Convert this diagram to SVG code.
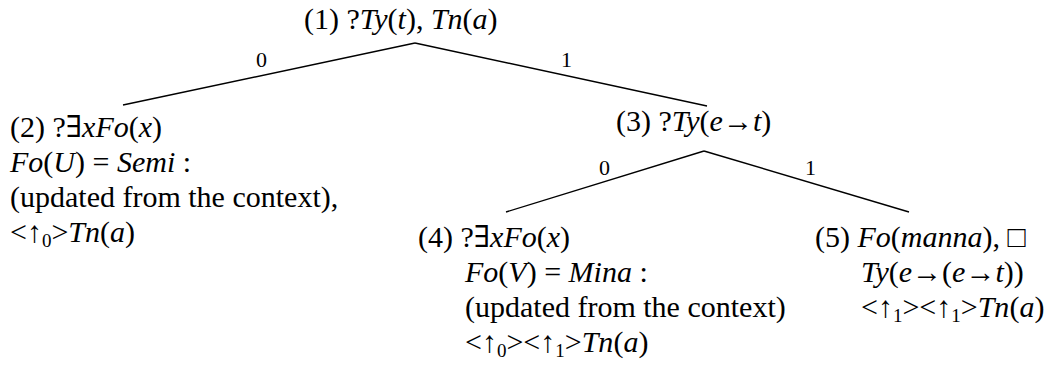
<svg xmlns="http://www.w3.org/2000/svg" width="1058" height="367" viewBox="0 0 1058 367">
<style>
text{font-family:"Liberation Serif","Times New Roman","DejaVu Serif",serif;font-size:30px;fill:#000}
.i{font-style:italic}
.lbl{font-size:22px}
.sub{font-size:19px}
line{stroke:#000;stroke-width:1.4}
</style>
<rect width="1058" height="367" fill="#fff"/>
<g id="connectors">
<line x1="415" y1="43" x2="123" y2="105"/>
<line x1="415" y1="43" x2="707" y2="106"/>
<line x1="704" y1="151" x2="506" y2="212"/>
<line x1="704" y1="151" x2="909" y2="212"/>
<text class="lbl" x="256" y="67">0</text>
<text class="lbl" x="561" y="67">1</text>
<text class="lbl" x="599" y="175">0</text>
<text class="lbl" x="805" y="175">1</text>
</g>
<g id="node1">
<text x="304" y="29">(1) ?<tspan class="i">Ty</tspan>(<tspan class="i">t</tspan>), <tspan class="i">Tn</tspan>(<tspan class="i">a</tspan>)</text>
</g>
<g id="node2">
<text x="10" y="137">(2) ?∃<tspan class="i">xFo</tspan>(<tspan class="i">x</tspan>)</text>
<text x="10" y="172"><tspan class="i">Fo</tspan>(<tspan class="i">U</tspan>) = <tspan class="i">Semi</tspan> :</text>
<text x="10" y="207">(updated from the context),</text>
<text x="10" y="242">&lt;↑<tspan class="sub" dy="5">0</tspan><tspan dy="-5">&gt;</tspan><tspan class="i">Tn</tspan>(<tspan class="i">a</tspan>)</text>
</g>
<g id="node3">
<text x="616" y="131">(3) ?<tspan class="i">Ty</tspan>(<tspan class="i">e</tspan>→<tspan class="i">t</tspan>)</text>
</g>
<g id="node4">
<text x="418" y="247">(4) ?∃<tspan class="i">xFo</tspan>(<tspan class="i">x</tspan>)</text>
<text x="465" y="282"><tspan class="i">Fo</tspan>(<tspan class="i">V</tspan>) = <tspan class="i">Mina</tspan> :</text>
<text x="465" y="317">(updated from the context)</text>
<text x="465" y="352">&lt;↑<tspan class="sub" dy="5">0</tspan><tspan dy="-5">&gt;&lt;↑</tspan><tspan class="sub" dy="5">1</tspan><tspan dy="-5">&gt;</tspan><tspan class="i">Tn</tspan>(<tspan class="i">a</tspan>)</text>
</g>
<g id="node5">
<text x="815" y="247">(5) <tspan class="i">Fo</tspan>(<tspan class="i">manna</tspan>), □</text>
<text x="861" y="282"><tspan class="i">Ty</tspan>(<tspan class="i">e</tspan>→(<tspan class="i">e</tspan>→<tspan class="i">t</tspan>))</text>
<text x="861" y="317">&lt;↑<tspan class="sub" dy="5">1</tspan><tspan dy="-5">&gt;&lt;↑</tspan><tspan class="sub" dy="5">1</tspan><tspan dy="-5">&gt;</tspan><tspan class="i">Tn</tspan>(<tspan class="i">a</tspan>)</text>
</g>
</svg>
